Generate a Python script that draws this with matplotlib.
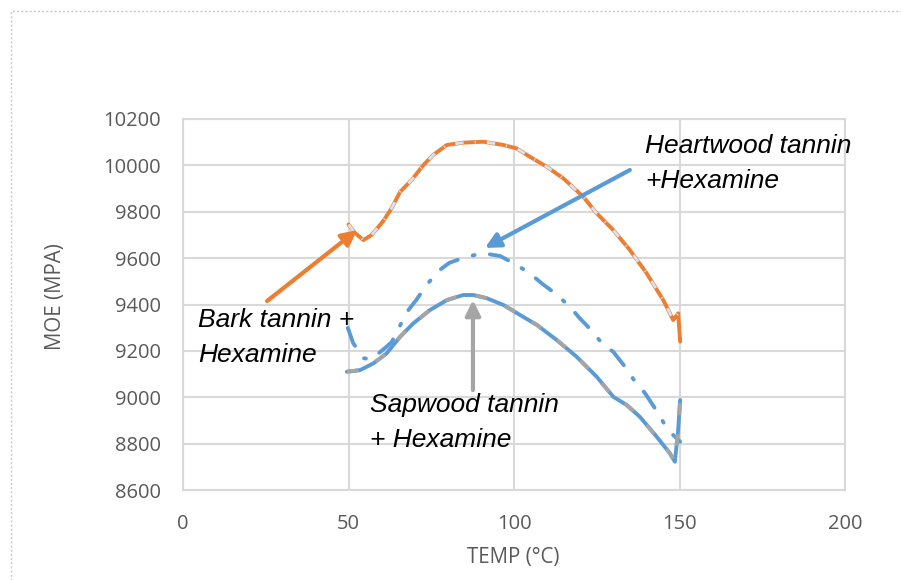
import matplotlib
matplotlib.use("Agg")
import matplotlib.pyplot as plt
from matplotlib.patches import Rectangle

# MOE vs temperature for tannin + hexamine adhesives

bark_temp = [50, 52, 54.5, 57, 60.5, 63, 65.6, 69.1, 72.6, 75.6, 79.7, 84.7, 90.7,
             96.8, 100.8, 104.8, 109.9, 114.9, 120.9, 125, 130, 135, 140.1, 145.1,
             148.1, 149.6, 150.2]
bark_moe = [9745, 9708, 9678, 9700, 9760, 9815, 9886, 9937, 10001, 10045, 10088, 10098,
            10102, 10088, 10073, 10037, 9994, 9944, 9865, 9793, 9721, 9635, 9534, 9419,
            9333, 9362, 9240]

heart_temp = [49.8, 51.4, 54.5, 57, 61.5, 63.1, 65.3, 68.1, 70.6, 73.6, 77.1, 80.5, 85.7,
              90.7, 95.8, 100.3, 104.8, 108.4, 112.7, 116.9, 119.9, 123.5, 127, 130,
              133.5, 136.6, 139.6, 142.6, 145.3, 148.1, 150.2]
heart_moe = [9299, 9234, 9168, 9165, 9218, 9239, 9302, 9376, 9422, 9484, 9544, 9580, 9606,
             9621, 9609, 9575, 9534, 9491, 9445, 9390, 9340, 9287, 9225, 9196, 9132, 9067,
             9017, 8952, 8888, 8837, 8808]

sap_temp = [49.5, 53.5, 57.5, 61.5, 65.6, 69.6, 74.6, 79.7, 84.7, 87.7, 91.8, 96.8, 101.8,
            106.9, 112.9, 118.9, 125, 130, 134, 138, 143.1, 147.1, 148.6, 149.6, 150.2]
sap_moe = [9110, 9117, 9146, 9189, 9261, 9319, 9376, 9419, 9441, 9441, 9427, 9398, 9355,
           9312, 9247, 9175, 9088, 9002, 8967, 8916, 8830, 8758, 8722, 8859, 8988]

x_ticks = [0, 50, 100, 150, 200]
y_ticks = [8600, 8800, 9000, 9200, 9400, 9600, 9800, 10000, 10200]

ORANGE = "#ED7D31"
BLUE = "#5B9BD5"
GRAY = "#A5A5A5"
PALE = "#D5E4F3"
TXT = "#595959"
GRID = "#D9D9D9"

fig = plt.figure(figsize=(9.01, 5.8), dpi=100)
ax = fig.add_axes([183 / 901, 1 - 490 / 580, 662 / 901, 371 / 580])

# dotted chart border
fig.patches.append(Rectangle((11 / 901, -0.05), 1.0, 1 - 10.5 / 580 + 0.05,
                             transform=fig.transFigure, fill=False,
                             edgecolor="#C8C8C8", lw=1.0, ls=(0, (1.5, 1.5))))

# curves
ax.plot(bark_temp, bark_moe, color=ORANGE, lw=2.8, solid_capstyle="round", zorder=3)
ax.plot(bark_temp[:-1], bark_moe[:-1], color=PALE, lw=2.0, ls=(0, (3, 4, 0.4, 4)),
        dash_capstyle="butt", zorder=4)
ax.plot(heart_temp, heart_moe, color=BLUE, lw=2.8, ls=(0, (5, 4, 0.5, 4)),
        dash_capstyle="round", zorder=3)
ax.plot(sap_temp, sap_moe, color=BLUE, lw=2.8, solid_capstyle="round", zorder=3)
ax.plot(sap_temp, sap_moe, color=GRAY, lw=2.8, ls=(0, (3, 5)), zorder=4)

ax.set_xlim(0, 200)
ax.set_ylim(8600, 10200)
ax.set_xticks(x_ticks)
ax.set_yticks(y_ticks)
ax.grid(True, color=GRID, lw=1.5)
ax.set_axisbelow(True)
for s in ax.spines.values():
    s.set_color(GRID)
    s.set_linewidth(1.5)
ax.tick_params(length=0, labelsize=14.5, labelcolor=TXT)
ax.tick_params(axis="y", pad=16)
ax.tick_params(axis="x", pad=17)
for lab in ax.get_xticklabels() + ax.get_yticklabels():
    lab.set_fontfamily("Open Sans")

fig.text(55 / 901, 1 - 297 / 580, "MOE (MPA)", rotation=90, ha="center", va="center",
         fontsize=14.8, color=TXT, family="Open Sans")
fig.text(513 / 901, 1 - 558 / 580, "TEMP (°C)", ha="center", va="center",
         fontsize=14.8, color=TXT, family="Open Sans")

# annotations
tfont = dict(fontsize=19, style="italic", family="Liberation Sans", color="black",
             va="baseline", ha="left", clip_on=False)
ax.text(4.5, 9303, "Bark tannin +", **tfont)
ax.text(4.5, 9152, "Hexamine", **tfont)
ax.text(139.6, 10053, "Heartwood tannin", **tfont)
ax.text(139.6, 9902, "+Hexamine", **tfont)
ax.text(56.5, 8936, "Sapwood tannin", **tfont)
ax.text(56.5, 8785, "+ Hexamine", **tfont)

def arrow(x0, y0, x1, y1, c):
    ax.annotate("", xy=(x1, y1), xytext=(x0, y0), annotation_clip=False,
                arrowprops=dict(arrowstyle="-|>,head_length=0.9,head_width=0.45",
                                color=c, lw=3, shrinkA=0, shrinkB=0), zorder=5)

arrow(25.4, 9415, 52.6, 9721, ORANGE)
arrow(135, 9980, 91.2, 9644, BLUE)
arrow(87.6, 9031, 87.6, 9419, GRAY)

fig.savefig("out.png", dpi=100)
